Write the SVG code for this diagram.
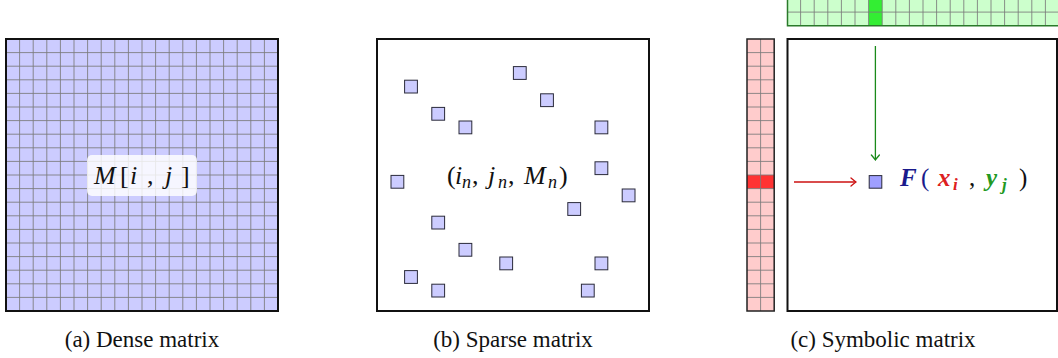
<svg xmlns="http://www.w3.org/2000/svg" width="1058" height="358" viewBox="0 0 1058 358">
<defs>
<style>
.frame{fill:none;stroke:#111;stroke-width:2}
.grid{fill:none;stroke:#7a7a7a;stroke-width:1;stroke-opacity:0.85}
.cell{fill:#ccccff;stroke:#2a2a3a;stroke-width:1}
.math{font-family:"Liberation Serif","DejaVu Serif",serif;font-size:26px;fill:#111}
.it{font-style:italic}
.sub{font-size:18px;font-style:italic}
.cap{font-family:"Liberation Serif","Times New Roman",serif;font-size:23px;fill:#111;text-anchor:middle}
.sym{font-family:"Liberation Serif","DejaVu Serif",serif;font-size:25px}
.bi{font-weight:bold;font-style:italic}
</style>
<marker id="ahRed" viewBox="-6 -5 7 10" refX="0" refY="0" markerWidth="7" markerHeight="10" orient="auto" markerUnits="userSpaceOnUse">
<path d="M-5,-4 Q-1.5,-1 0,0 Q-1.5,1 -5,4" fill="none" stroke="#cc1111" stroke-width="1.3" stroke-linecap="round"/>
</marker>
<marker id="ahGreen" viewBox="-6 -5 7 10" refX="0" refY="0" markerWidth="7" markerHeight="10" orient="auto" markerUnits="userSpaceOnUse">
<path d="M-5,-4 Q-1.5,-1 0,0 Q-1.5,1 -5,4" fill="none" stroke="#1a8a1a" stroke-width="1.3" stroke-linecap="round"/>
</marker>
</defs>

<!-- (a) Dense matrix -->
<g id="dense">
<rect x="6" y="39" width="272" height="272" fill="#ccccff"/>
<path class="grid" d="M19.6,39V311M33.2,39V311M46.8,39V311M60.4,39V311M74,39V311M87.6,39V311M101.2,39V311M114.8,39V311M128.4,39V311M142,39V311M155.6,39V311M169.2,39V311M182.8,39V311M196.4,39V311M210,39V311M223.6,39V311M237.2,39V311M250.8,39V311M264.4,39V311M6,52.6H278M6,66.2H278M6,79.8H278M6,93.4H278M6,107H278M6,120.6H278M6,134.2H278M6,147.8H278M6,161.4H278M6,175H278M6,188.6H278M6,202.2H278M6,215.8H278M6,229.4H278M6,243H278M6,256.6H278M6,270.2H278M6,283.8H278M6,297.4H278"/>
<rect class="frame" x="6" y="39" width="272" height="272"/>
<g id="dense-label">
<rect x="87" y="155" width="110" height="41" rx="5" fill="#ffffff" fill-opacity="0.82"/>
<text class="math" y="184" font-size="27"><tspan class="it" x="94">M</tspan><tspan x="120">[</tspan><tspan class="it" x="130">i</tspan><tspan x="147">,</tspan><tspan class="it" x="165">j</tspan><tspan x="181">]</tspan></text>
</g>
</g>

<!-- (b) Sparse matrix -->
<g id="sparse">
<rect x="377" y="39" width="272" height="272" fill="#ffffff"/>
<g id="sparse-entries">
<rect class="cell" x="404.6" y="80.2" width="12.8" height="12.8"/>
<rect class="cell" x="431.8" y="107.4" width="12.8" height="12.8"/>
<rect class="cell" x="459" y="121" width="12.8" height="12.8"/>
<rect class="cell" x="513.4" y="66.6" width="12.8" height="12.8"/>
<rect class="cell" x="540.6" y="93.8" width="12.8" height="12.8"/>
<rect class="cell" x="595" y="121" width="12.8" height="12.8"/>
<rect class="cell" x="595" y="161.8" width="12.8" height="12.8"/>
<rect class="cell" x="622.2" y="189" width="12.8" height="12.8"/>
<rect class="cell" x="567.8" y="202.6" width="12.8" height="12.8"/>
<rect class="cell" x="391" y="175.4" width="12.8" height="12.8"/>
<rect class="cell" x="431.8" y="216.2" width="12.8" height="12.8"/>
<rect class="cell" x="459" y="243.4" width="12.8" height="12.8"/>
<rect class="cell" x="499.8" y="257" width="12.8" height="12.8"/>
<rect class="cell" x="595" y="257" width="12.8" height="12.8"/>
<rect class="cell" x="404.6" y="270.6" width="12.8" height="12.8"/>
<rect class="cell" x="431.8" y="284.2" width="12.8" height="12.8"/>
<rect class="cell" x="581.4" y="284.2" width="12.8" height="12.8"/>
</g>
<rect class="frame" x="377" y="39" width="272" height="272"/>
<text id="sparse-label" class="math" y="184"><tspan x="447">(</tspan><tspan class="it" x="455">i</tspan><tspan class="sub" x="462" dy="4">n</tspan><tspan x="472" dy="-4">,</tspan><tspan class="it" x="488">j</tspan><tspan class="sub" x="498" dy="4">n</tspan><tspan x="508" dy="-4">,</tspan><tspan class="it" x="524">M</tspan><tspan class="sub" x="548" dy="4">n</tspan><tspan x="559" dy="-4">)</tspan></text>
</g>

<!-- (c) Symbolic matrix -->
<g id="symbolic">
<g id="row-vector">
<rect x="787" y="-2" width="272" height="27.7" fill="#ccffcc"/>
<rect x="868.6" y="-2" width="13.6" height="27.7" fill="#33ee33"/>
<path class="grid" d="M800.6,-2V25.7M814.2,-2V25.7M827.8,-2V25.7M841.4,-2V25.7M855,-2V25.7M868.6,-2V25.7M882.2,-2V25.7M895.8,-2V25.7M909.4,-2V25.7M923,-2V25.7M936.6,-2V25.7M950.2,-2V25.7M963.8,-2V25.7M977.4,-2V25.7M991,-2V25.7M1004.6,-2V25.7M1018.2,-2V25.7M1031.8,-2V25.7M1045.4,-2V25.7M787,12.1H1059"/>
<path d="M787.5,-2V25.7H1059" fill="none" stroke="#2a7a2a" stroke-width="1.5"/>
</g>
<g id="col-vector">
<rect x="747" y="39" width="27.2" height="272" fill="#ffcccc"/>
<rect x="747" y="175" width="27.2" height="13.6" fill="#ff3333"/>
<path class="grid" d="M760.6,39V311M747,52.6H774.2M747,66.2H774.2M747,79.8H774.2M747,93.4H774.2M747,107H774.2M747,120.6H774.2M747,134.2H774.2M747,147.8H774.2M747,161.4H774.2M747,175H774.2M747,188.6H774.2M747,202.2H774.2M747,215.8H774.2M747,229.4H774.2M747,243H774.2M747,256.6H774.2M747,270.2H774.2M747,283.8H774.2M747,297.4H774.2"/>
<rect x="747" y="39" width="27.2" height="272" fill="none" stroke="#222" stroke-width="1.5"/>
</g>
<rect id="symbolic-frame" class="frame" x="787.5" y="39" width="269.5" height="272"/>
<rect id="symbolic-entry" x="869.2" y="175.6" width="12.6" height="12.6" fill="#9f9fff" stroke="#2a2a3a" stroke-width="1"/>
<text id="symbolic-label" class="sym" y="186"><tspan x="900" class="bi" fill="#1a1a8c">F</tspan><tspan x="921" fill="#1a1a8c">(</tspan><tspan x="938" class="bi" fill="#dd2020">x</tspan><tspan x="953" dy="4" font-size="17" class="bi" fill="#dd2020">i</tspan><tspan x="969" dy="-4" fill="#111">,</tspan><tspan x="986" class="bi" fill="#229922">y</tspan><tspan x="1002" dy="4" font-size="17" class="bi" fill="#229922">j</tspan><tspan x="1019" dy="-4" fill="#111">)</tspan></text>
</g>

<!-- connectors -->
<g id="connectors">
<line x1="875.4" y1="46" x2="875.4" y2="160" stroke="#1a8a1a" stroke-width="1.3" marker-end="url(#ahGreen)"/>
<line x1="794" y1="182" x2="856" y2="182" stroke="#cc1111" stroke-width="1.3" marker-end="url(#ahRed)"/>
</g>

<!-- captions -->
<g id="captions">
<text class="cap" x="142" y="347">(a) Dense matrix</text>
<text class="cap" x="513" y="347">(b) Sparse matrix</text>
<text class="cap" x="883" y="347">(c) Symbolic matrix</text>
</g>
</svg>
